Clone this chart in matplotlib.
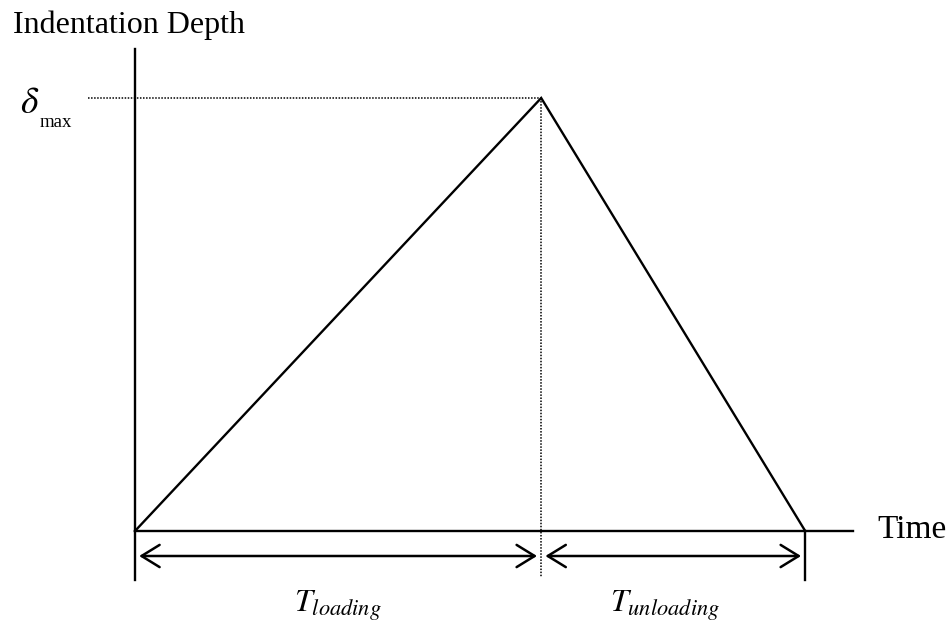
import matplotlib.pyplot as plt

plt.rcParams['font.family'] = ['Liberation Serif', 'DejaVu Serif']
plt.rcParams['mathtext.fontset'] = 'stix'

# loading / unloading profile (time units, normalised depth)
t_loading = 6.0
t_unloading = 3.9
d_max = 1.0
time = [0.0, t_loading, t_loading + t_unloading]
depth = [0.0, d_max, 0.0]

W, H = 947, 628
# pixel scale of the drawing
sx = 67.7    # px per time unit
sy = 433.0   # px per depth unit
x0, y0 = 135, 531   # origin in pixels

fig = plt.figure(figsize=(W / 100, H / 100), dpi=100)
ax = fig.add_axes([0, 0, 1, 1])
ax.set_xlim(-x0 / sx, (W - x0) / sx)
ax.set_ylim(-(H - y0) / sy, y0 / sy)
ax.axis('off')

t_end = time[-1]
y_low = -49 / sy     # lower end of the vertical guide lines

# axes
ax.plot([0, 0], [y_low, (y0 - 49) / sy], color='black', lw=1.7)
ax.plot([0, (853 - x0) / sx], [0, 0], color='black', lw=1.7)
ax.plot([t_end, t_end], [0, y_low], color='black', lw=1.7)

# dotted guides to the peak
ax.plot([-(x0 - 88) / sx, t_loading], [d_max, d_max], color='black', lw=1.1,
        linestyle=(0, (1, 1)))
ax.plot([t_loading, t_loading], [d_max, -46 / sy], color='black', lw=1.1,
        linestyle=(0, (1, 1)))

# triangular profile
ax.plot(time, depth, color='black', lw=1.7, solid_joinstyle='miter')

# duration arrows
y_arr = -25 / sy
arrow = dict(arrowstyle='<->,head_length=0.65,head_width=0.4', color='black',
             lw=1.8, mutation_scale=20, shrinkA=3, shrinkB=3)
ax.annotate('', xy=(0, y_arr), xytext=(t_loading, y_arr), arrowprops=arrow)
ax.annotate('', xy=(t_loading, y_arr), xytext=(t_end, y_arr), arrowprops=arrow)

# labels
ax.text(-(x0 - 13) / sx, (y0 - 33) / sy, 'Indentation Depth', fontsize=23,
        ha='left', va='baseline')
ax.text(-(x0 - 20) / sx, (y0 - 113) / sy, r'$\delta$', fontsize=27,
        ha='left', va='baseline')
ax.text(-(x0 - 40) / sx, (y0 - 127) / sy, 'max', fontsize=13.5,
        ha='left', va='baseline')
ax.text((877 - x0) / sx, -(538 - y0) / sy, 'Time', fontsize=24,
        ha='left', va='baseline')
ax.text(t_loading / 2, -(612 - y0) / sy, r'$T_{loading}$', fontsize=23,
        ha='center', va='baseline')
ax.text(t_loading + t_unloading / 2 - 0.12, -(612 - y0) / sy, r'$T_{unloading}$',
        fontsize=23, ha='center', va='baseline')

fig.savefig('out.png', dpi=100)
